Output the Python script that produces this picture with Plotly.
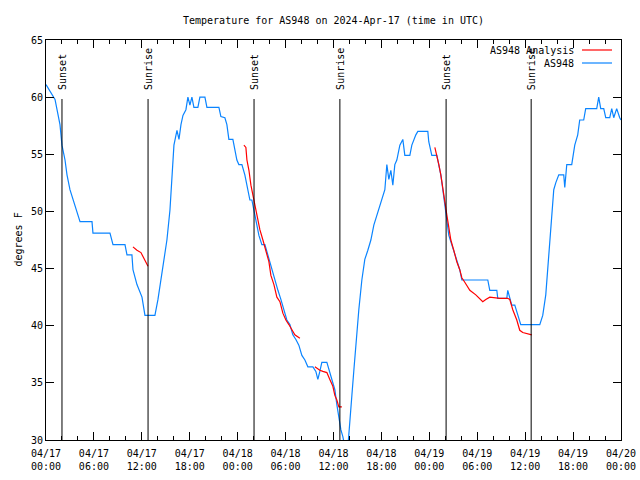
import datetime as dt
import plotly.graph_objects as go

BASE = dt.datetime(2024, 4, 17, 0, 0)

# AS948 observations: hours since 2024-04-17 00:00 UTC, temperature (F)
obs_hours = [0.0, 0.75, 1.13, 1.75, 2.0, 2.38, 2.63, 3.0, 3.38, 3.75, 4.26, 5.76, 5.88, 8.01, 8.39, 9.89,
             10.14, 10.76, 10.89, 11.39, 12.02, 12.39, 13.64, 14.02, 14.39, 14.77, 15.14, 15.52, 15.77,
             16.02, 16.4, 16.65, 16.9, 17.15, 17.52, 17.77, 18.02, 18.27, 18.52, 19.02, 19.27, 19.9,
             20.15, 21.65, 21.9, 22.4, 22.65, 22.9, 23.4, 23.65, 23.9, 24.15, 24.53, 24.9, 25.28, 25.53,
             25.78, 26.03, 26.28, 26.66, 27.03, 27.41, 27.78, 28.28, 28.66, 29.04, 29.41, 29.79, 30.16,
             30.54, 30.91, 31.29, 31.66, 32.04, 32.42, 32.79, 33.42, 33.79, 34.04, 34.29, 34.54, 35.17,
             35.54, 35.79, 36.17, 36.42, 36.67, 36.92, 37.17, 37.42, 37.8, 38.05, 38.3, 38.55, 38.8,
             39.17, 39.55, 39.92, 40.3, 40.68, 41.05, 41.43, 41.8, 42.18, 42.43, 42.68, 42.93, 43.18,
             43.43, 43.68, 43.93, 44.31, 44.68, 44.93, 45.56, 45.81, 46.06, 46.31, 46.56, 47.81, 47.93,
             48.31, 48.94, 49.19, 49.44, 49.69, 49.94, 50.19, 50.44, 50.81, 51.19, 51.44, 51.81, 52.07,
             55.32, 55.57, 56.45, 56.57, 57.7, 57.82, 57.95, 58.32, 58.7, 59.07, 59.45, 61.83, 62.2,
             62.58, 62.83, 63.08, 63.33, 63.58, 63.83, 64.21, 64.83, 64.96, 65.21, 65.83, 66.21, 66.58,
             66.83, 67.33, 67.58, 68.96, 69.21, 69.46, 69.84, 70.09, 70.59, 70.84, 71.09, 71.46, 71.84,
             72.0]
obs_temps = [61.1, 60.2, 59.8, 57.6, 55.8, 54.5, 53.2, 51.9, 51.0, 50.1, 49.1, 49.1, 48.1, 48.1, 47.1, 47.1,
             46.2, 46.2, 44.9, 43.6, 42.5, 40.9, 40.9, 42.3, 44.0, 45.8, 47.5, 50.1, 53.6,
             55.8, 57.1, 56.3, 57.6, 58.4, 58.9, 60.0, 59.3, 60.0, 59.1, 59.1, 60.0, 60.0,
             59.1, 59.1, 58.3, 58.2, 57.6, 56.3, 56.3, 55.4, 54.5, 54.1, 54.1, 53.2, 51.9, 51.0,
             51.0, 50.1, 49.1, 47.9, 47.1, 47.1, 46.2, 44.9, 44.0, 43.1, 42.3, 41.4, 40.5,
             40.1, 39.2, 38.8, 38.3, 37.4, 37.0, 36.4, 36.4, 36.0, 35.3, 36.0, 36.8, 36.8,
             35.9, 35.3, 34.4, 33.1, 31.8, 30.9, 30.3, 29.4, 29.4, 31.3, 33.9, 36.1, 38.3,
             41.4, 44.0, 45.8, 46.6, 47.5, 48.8, 49.7, 50.6, 51.4, 51.9, 54.1, 52.8, 53.6,
             52.3, 54.1, 54.5, 55.8, 56.3, 54.9, 54.9, 55.8, 56.3, 56.7, 57.0, 57.0, 56.1,
             54.9, 54.9, 54.1, 53.2, 51.9, 50.6, 49.2, 47.9, 47.1, 46.2, 45.8, 44.9, 44.0,
             44.0, 43.1, 43.1, 42.4, 42.4, 43.1, 42.7, 41.8, 41.8, 40.9, 40.1, 40.1, 40.9,
             42.7, 44.9, 47.5, 50.1, 51.9, 52.5, 53.2, 53.2, 52.1, 54.1, 54.1, 55.8, 56.7,
             58.0, 58.0, 59.0, 59.0, 60.0, 59.0, 59.0, 58.2, 58.2, 59.0, 58.2, 59.0, 58.2,
             58.0]

# AS948 Analysis segments (None separates segments)
ana_hours = [10.89, 11.39, 11.89, 12.27, 12.77, None,
             24.78, 25.03, 25.16, 25.41, 25.66, 25.91, 26.28, 26.53, 26.78, 27.16, 27.53, 27.91,
             28.16, 28.54, 28.91, 29.29, 29.66, 30.04, 30.41, 30.79, 31.16, 31.79, None,
             33.67, 34.29, 34.67, 35.17, 35.54, 35.92, 36.17, 36.42, 36.67, 37.05, None,
             48.69, 48.94, 49.19, 49.44, 49.69, 49.94, 50.19, 50.44, 50.69, 51.06, 51.44, 51.81,
             52.07, 52.44, 53.07, 53.82, 54.32, 54.69, 55.07, 55.57, 56.82, 57.82, 58.07, 58.45,
             58.95, 59.32, 59.7, 60.83]
ana_temps = [46.9, 46.6, 46.4, 45.9, 45.2, None,
             55.8, 55.6, 54.5, 53.6, 52.3, 51.4, 50.1, 49.3, 48.4, 47.5, 46.6, 45.6,
             44.4, 43.6, 42.5, 42.1, 41.1, 40.5, 40.1, 39.6, 39.2, 38.9, None,
             36.4, 36.1, 36.0, 35.9, 35.3, 34.7, 33.9, 33.5, 32.9, 32.9, None,
             55.6, 54.9, 54.1, 53.2, 51.9, 51.0, 49.7, 48.6, 47.5, 46.6, 45.6, 44.9,
             44.2, 43.8, 43.1, 42.7, 42.3, 42.1, 42.3, 42.5, 42.4, 42.4, 42.3, 41.4,
             40.5, 39.6, 39.4, 39.2]

# Sun events: hours since base
sun_labels = ["Sunset", "Sunrise", "Sunset", "Sunrise", "Sunset", "Sunrise"]
sun_hours = [2.0, 12.78, 26.05, 36.8, 50.1, 60.75]

legend_names = ["AS948 Analysis", "AS948"]
legend_colors = ["#ff0000", "#0a84ff"]

y_range = [30, 65]


def to_time(h):
    return None if h is None else BASE + dt.timedelta(hours=h)


FONT = "DejaVu Sans Mono"

fig = go.Figure()
fig.add_trace(go.Scatter(x=[to_time(h) for h in obs_hours], y=obs_temps, mode="lines",
                         name=legend_names[1], line=dict(color=legend_colors[1], width=1.2),
                         showlegend=False, hoverinfo="skip"))
fig.add_trace(go.Scatter(x=[to_time(h) for h in ana_hours], y=ana_temps, mode="lines",
                         name=legend_names[0], line=dict(color=legend_colors[0], width=1.2),
                         connectgaps=False, showlegend=False, hoverinfo="skip"))

# sun lines and labels
for lab, h in zip(sun_labels, sun_hours):
    t = to_time(h)
    fig.add_shape(type="line", xref="x", yref="paper", x0=t, x1=t, y0=0, y1=0.8525,
                  line=dict(color="black", width=1))
    fig.add_annotation(x=t, xref="x", y=0.87, yref="paper", text=lab, textangle=-90,
                       showarrow=False, xanchor="center", yanchor="bottom",
                       font=dict(family=FONT, size=10, color="black"))

# manual gnuplot-style legend (text right, sample line to the right)
for i, (nm, col) in enumerate(zip(legend_names, legend_colors)):
    ypx = 50 + 13 * i
    yp = (440 - ypx) / 400
    fig.add_annotation(x=(576 - 46) / 575, xref="paper", y=yp, yref="paper", text=nm,
                       showarrow=False, xanchor="right", yanchor="middle",
                       font=dict(family=FONT, size=10, color="black"))
    fig.add_shape(type="line", xref="paper", yref="paper",
                  x0=(582 - 46) / 575, x1=(612 - 46) / 575, y0=yp, y1=yp,
                  line=dict(color=col, width=1.2))

# y axis title
fig.add_annotation(x=0, xref="paper", xshift=-36, y=0.5, yref="paper", text="degrees F",
                   textangle=-90, showarrow=False, font=dict(family=FONT, size=10, color="black"))

fig.update_layout(
    width=640, height=480,
    margin=dict(l=46, r=19, t=40, b=40, autoexpand=False),
    paper_bgcolor="white", plot_bgcolor="white",
    font=dict(family=FONT, size=10, color="black"),
    title=dict(text="Temperature for AS948 on 2024-Apr-17 (time in UTC)", x=(46 + 621) / 2 / 640,
               xanchor="center", y=1 - 20 / 480, yanchor="middle",
               font=dict(family=FONT, size=10, color="black")),
    showlegend=False,
)
fig.update_xaxes(
    type="date", range=[BASE, BASE + dt.timedelta(hours=72)], automargin=False,
    dtick=6 * 3600 * 1000, tick0=BASE, tickformat="%m/%d<br>%H:%M",
    ticks="inside", ticklen=8, tickcolor="black", tickwidth=1, ticklabelstandoff=4,
    minor=dict(dtick=2 * 3600 * 1000, ticks="inside", ticklen=4, tickcolor="black", tickwidth=1,
               showgrid=False),
    showline=True, linecolor="black", linewidth=1, mirror="ticks", showgrid=False, zeroline=False,
    tickfont=dict(family=FONT, size=10, color="black"),
)
fig.update_yaxes(
    range=y_range, dtick=5, tick0=30, automargin=False,
    ticks="inside", ticklen=8, tickcolor="black", tickwidth=1,
    showline=True, linecolor="black", linewidth=1, mirror="ticks", showgrid=False, zeroline=False,
    tickfont=dict(family=FONT, size=10, color="black"),
)

fig.write_html("out.html")
